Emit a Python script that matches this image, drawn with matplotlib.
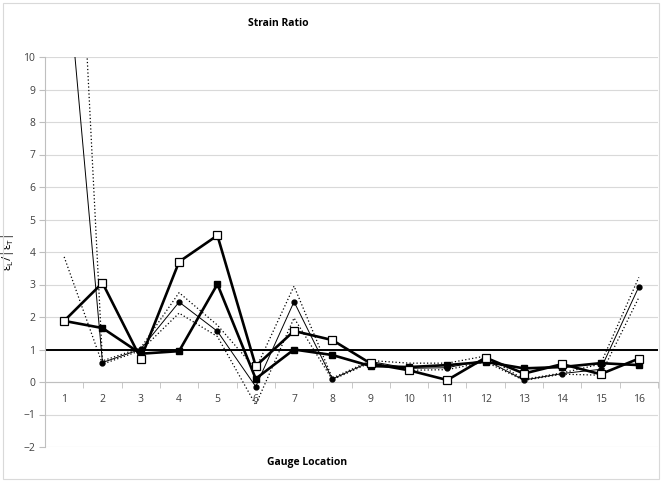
import numpy as np
import matplotlib
matplotlib.use("Agg")
import matplotlib.pyplot as plt
from matplotlib.ticker import FixedLocator, NullFormatter

plt.rcParams['font.family'] = ['Open Sans', 'DejaVu Sans']

# gauge locations (categories)
gauges = np.arange(1, 17)

# thick line, open squares
serie_abierta = [1.88, 3.05, 0.72, 3.70, 4.51, 0.49, 1.57, 1.29, 0.57, 0.36,
                 0.06, 0.75, 0.26, 0.55, 0.24, 0.72]
# thick line, filled squares
serie_llena = [1.88, 1.66, 0.87, 0.95, 3.01, 0.10, 1.00, 0.83, 0.49, 0.46,
               0.52, 0.62, 0.42, 0.46, 0.58, 0.52]
# thin line, filled circles (mean)
serie_media = [13.7, 0.60, 1.01, 2.46, 1.56, -0.14, 2.47, 0.09, 0.63, 0.42,
               0.44, 0.68, 0.06, 0.26, 0.39, 2.93]
# dotted bounds
banda_sup = [24.0, 0.65, 1.05, 2.75, 1.75, 0.40, 2.95, 0.12, 0.66, 0.58,
             0.58, 0.80, 0.08, 0.28, 0.55, 3.22]
banda_inf = [3.85, 0.55, 0.97, 2.12, 1.40, -0.70, 1.97, 0.07, 0.60, 0.36,
             0.38, 0.62, 0.05, 0.24, 0.21, 2.60]
ref_linea = 1.0

fig = plt.figure(figsize=(6.62, 4.83), dpi=100)
ax = fig.add_axes([45 / 662, 1 - 447 / 483, 613 / 662, 390 / 483])

gris = '#bfbfbf'

# grid
for y in range(-2, 11):
    ax.axhline(y, color='#d9d9d9', lw=0.8, zorder=0)

ax.axhline(ref_linea, color='black', lw=1.4, zorder=2)

# dotted bounds
ax.plot(gauges, banda_sup, color='black', lw=0.9, ls=(0, (1, 1.8)), zorder=3)
ax.plot(gauges, banda_inf, color='black', lw=0.9, ls=(0, (1, 1.8)), zorder=3)

# mean
ax.plot(gauges, serie_media, color='black', lw=0.7, marker='o', ms=3.5,
        zorder=4)

# thick series
ax.plot(gauges, serie_llena, color='black', lw=1.9, marker='s', ms=4.2,
        zorder=5)
ax.plot(gauges, serie_abierta, color='black', lw=1.9, marker='s', ms=6,
        mfc='white', mec='black', mew=0.9, zorder=6)

ax.set_xlim(0.5, 16.5)
ax.set_ylim(-2, 10)

# axes look (Excel style)
for s in ['top', 'right']:
    ax.spines[s].set_visible(False)
ax.spines['left'].set_color(gris)
ax.spines['bottom'].set_color(gris)
ax.spines['bottom'].set_position(('data', 0))

ax.xaxis.set_major_locator(FixedLocator(gauges))
ax.xaxis.set_minor_locator(FixedLocator(np.arange(0.5, 17, 1)))
ax.xaxis.set_minor_formatter(NullFormatter())
ax.set_xticklabels([str(g) for g in gauges])
ax.tick_params(axis='x', which='major', length=0, pad=9, labelsize=7.5,
               labelcolor='#404040')
ax.tick_params(axis='x', which='minor', length=4, color=gris, direction='out')

ax.set_yticks(range(-2, 11))
ax.tick_params(axis='y', length=4, color=gris, labelsize=7.5,
               labelcolor='#404040', pad=3)

ax.set_ylabel('ε$_\\mathregular{L}$/|ε$_\\mathregular{T}$|', fontsize=8.5,
              labelpad=5)

fig.text(278 / 662, 1 - 23 / 483, 'Strain Ratio', ha='center', va='center',
         fontsize=7.5, fontweight='bold')
fig.text(307 / 662, 1 - 462 / 483, 'Gauge Location', ha='center',
         va='center', fontsize=7.5, fontweight='bold')

# outer chart border
borde = plt.Rectangle((3 / 662, 4 / 483), 656 / 662, 476 / 483,
                      transform=fig.transFigure, fill=False, ec='#d9d9d9',
                      lw=0.8)
fig.patches.append(borde)

fig.savefig('out.png', dpi=100)
